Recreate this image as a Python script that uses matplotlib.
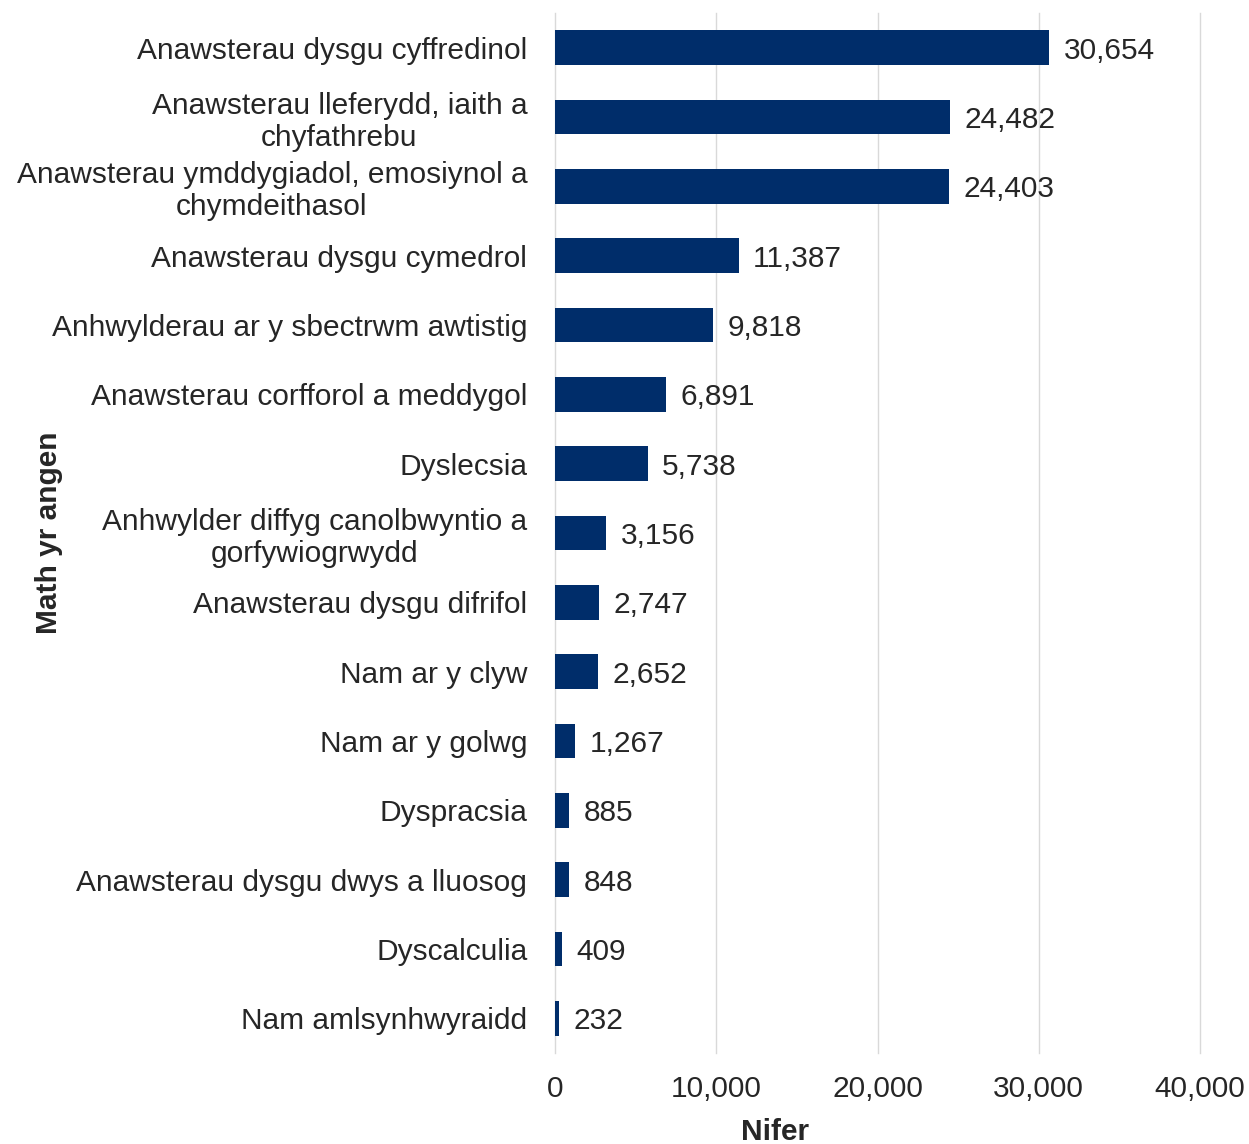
import matplotlib
matplotlib.use("Agg")
import matplotlib.pyplot as plt
from matplotlib.ticker import FuncFormatter

plt.rcParams['font.family'] = ['Liberation Sans', 'DejaVu Sans']

categories = [
    "Anawsterau dysgu cyffredinol",
    "Anawsterau lleferydd, iaith a\nchyfathrebu",
    "Anawsterau ymddygiadol, emosiynol a\nchymdeithasol",
    "Anawsterau dysgu cymedrol",
    "Anhwylderau ar y sbectrwm awtistig",
    "Anawsterau corfforol a meddygol",
    "Dyslecsia",
    "Anhwylder diffyg canolbwyntio a\ngorfywiogrwydd",
    "Anawsterau dysgu difrifol",
    "Nam ar y clyw",
    "Nam ar y golwg",
    "Dyspracsia",
    "Anawsterau dysgu dwys a lluosog",
    "Dyscalculia",
    "Nam amlsynhwyraidd",
]
values = [30654, 24482, 24403, 11387, 9818, 6891, 5738, 3156, 2747, 2652, 1267, 885, 848, 409, 232]
x_ticks = [0, 10000, 20000, 30000, 40000]

bar_color = "#002D6A"
txt_color = "#262626"
fs = 21.5

fig = plt.figure(figsize=(12.49, 11.44), dpi=100)
ax = fig.add_axes([0.4444, 0.0795, 0.5164, 0.9091])

pos = list(range(len(categories)))
ax.barh(pos, values, height=0.5, color=bar_color, zorder=3)
for p, v in zip(pos, values):
    ax.annotate(f"{v:,}", (v, p), xytext=(10.5, 0), textcoords="offset points",
                va="center_baseline", ha="left", fontsize=fs, color=txt_color)

ax.set_ylim(len(categories) - 0.5, -0.5)
ax.set_xlim(0, 40000)
ax.set_xticks(x_ticks)
ax.xaxis.set_major_formatter(FuncFormatter(lambda v, _: f"{int(v):,}"))
ax.set_yticks(pos)
ax.set_yticklabels(categories, multialignment="center", linespacing=1.18)
ax.tick_params(axis="y", length=0, pad=20, labelsize=fs, labelcolor=txt_color)
ax.tick_params(axis="x", length=0, pad=16, labelsize=fs, labelcolor=txt_color)
for s in ax.spines.values():
    s.set_visible(False)
ax.grid(axis="x", color="#D9D9D9", linewidth=1, zorder=0, clip_on=False)

ax.set_xlabel("Nifer", fontsize=fs, fontweight="bold", color=txt_color)
ax.xaxis.set_label_coords(0.341, -0.0625)
ax.set_ylabel("Math yr angen", fontsize=fs, fontweight="bold", color=txt_color)
ax.yaxis.set_label_coords(-0.763, 0.5)

fig.savefig("out.png", dpi=100)
